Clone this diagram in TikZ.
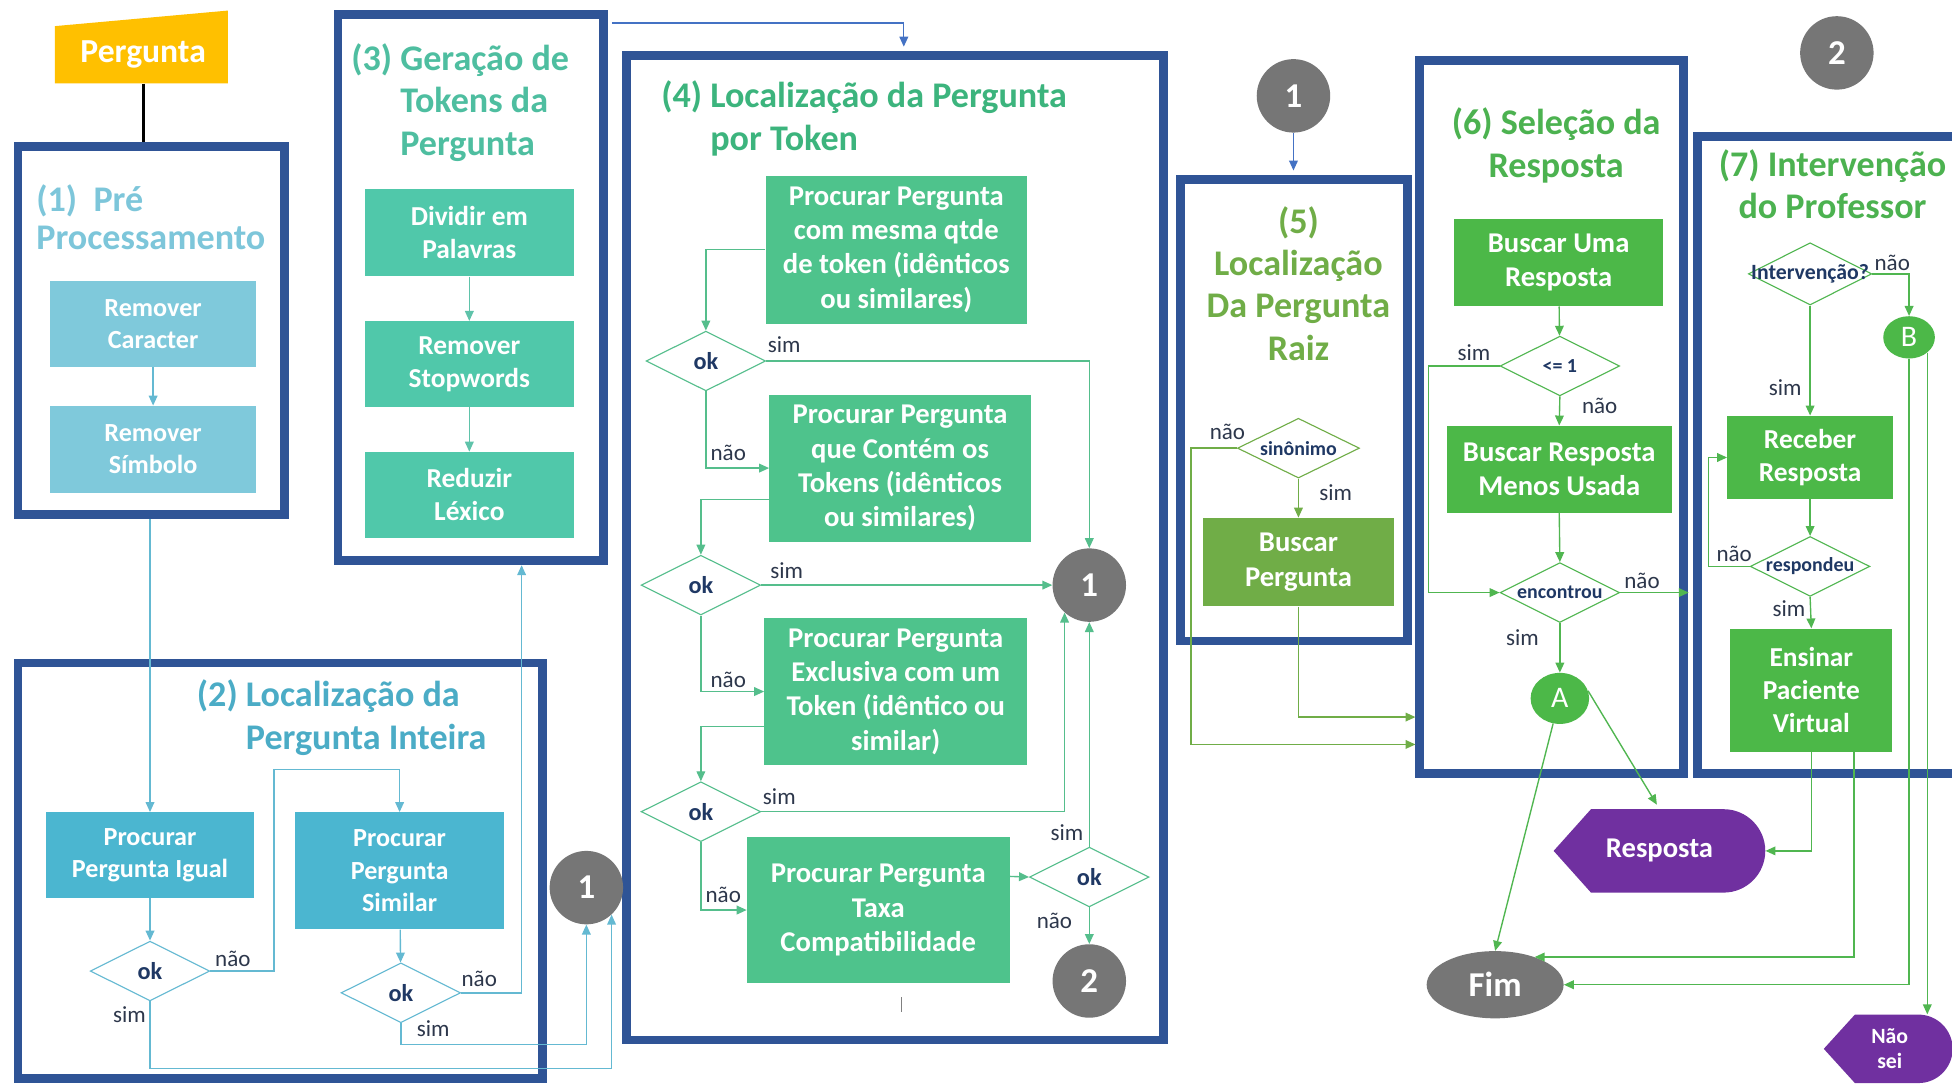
\documentclass[tikz,border=0pt]{standalone}
\usepackage{fontspec}
\setmainfont{Carlito}
\usetikzlibrary{arrows.meta,shapes.geometric,calc}

\definecolor{frameblue}{RGB}{47,84,150}
\definecolor{c1}{RGB}{127,201,219}
\definecolor{c1t}{RGB}{125,198,218}
\definecolor{c2}{RGB}{75,182,208}
\definecolor{c2t}{RGB}{75,172,198}
\definecolor{c3}{RGB}{80,200,170}
\definecolor{c3t}{RGB}{78,190,160}
\definecolor{c4}{RGB}{78,195,140}
\definecolor{c4t}{RGB}{60,180,125}
\definecolor{c5}{RGB}{112,173,71}
\definecolor{c67}{RGB}{76,184,72}
\definecolor{c67t}{RGB}{76,178,80}
\definecolor{ln12}{RGB}{100,185,210}
\definecolor{ln3}{RGB}{95,195,170}
\definecolor{ln4}{RGB}{85,190,140}
\definecolor{ln5}{RGB}{112,173,71}
\definecolor{ln67}{RGB}{80,182,80}
\definecolor{lnk}{RGB}{68,114,196}
\definecolor{gcol}{RGB}{118,118,118}
\definecolor{purp}{RGB}{112,48,160}
\definecolor{yel}{RGB}{255,192,0}
\definecolor{navy}{RGB}{31,56,100}
\definecolor{lblcol}{RGB}{45,55,75}

\begin{document}
\begin{tikzpicture}[x=1pt,y=-1pt,
  frame/.style={draw=frameblue, line width=7pt, inner sep=0pt},
  ttl/.style={text=#1, font=\fontsize{29}{34}\selectfont\bfseries, inner sep=0pt},
  pbox/.style={fill=#1, text=white, align=center, inner sep=0pt, font=\fontsize{22}{26.5}\selectfont\bfseries},
  bigtxt/.style={font=\fontsize{23}{27.5}\selectfont\bfseries},
  smalltxt/.style={font=\fontsize{21}{26}\selectfont\bfseries},
  dia/.style={diamond, aspect=2, draw=#1, fill=white, line width=0.9pt, minimum width=96pt, minimum height=48pt, inner sep=0pt},
  dtxt/.style={text=navy, inner sep=0pt, font=\fontsize{19.5}{22}\selectfont\bfseries},
  stxt/.style={text=navy, inner sep=0pt, font=\fontsize{16}{18}\selectfont\bfseries},
  lbl/.style={text=lblcol, inner sep=0pt, font=\fontsize{18.5}{20}\selectfont},
  gnum/.style={circle, fill=gcol, minimum size=59pt, inner sep=0pt, text=white, font=\fontsize{28}{30}\selectfont\bfseries},
  gell/.style={ellipse, fill=c67, inner sep=0pt, text=white, font=\fontsize{24}{26}\selectfont},
  conn/.style={draw=#1, line width=1.1pt, -{Triangle[length=8pt,width=7pt]}},
]
\useasboundingbox (0,0) rectangle (1568,872);
\clip (0,0) rectangle (1568,872);
\fill[white] (0,0) rectangle (1568,872);

% ---------- stage frames ----------
\node[frame, minimum width=214pt, minimum height=296pt] (f1) at (121.5,265.4) {};
\node[frame, minimum width=421pt, minimum height=334pt] (f2) at (225,699.5) {};
\node[frame, minimum width=213pt, minimum height=439pt] (f3) at (378,231) {};
\node[frame, minimum width=431pt, minimum height=791pt] (f4) at (719,440) {};
\node[frame, minimum width=182pt, minimum height=371pt] (f5) at (1039.5,329.5) {};
\node[frame, minimum width=212pt, minimum height=573pt] (f6) at (1246.5,335) {};
\node[frame, minimum width=253pt, minimum height=512pt] (f7) at (1490,365.4) {};

% ---------- input ----------
\fill[yel] (44,21) -- (183,8.5) -- (183,67) -- (44,67) -- cycle;
\node[inner sep=0pt, minimum width=139pt, minimum height=46pt, text=white,
      font=\fontsize{27}{30}\selectfont\bfseries] (perg) at (115,44) {Pergunta};
\draw[black, line width=2.6pt] (perg.south) -- (perg.south |- f1.north);

% ---------- titles ----------
\node[ttl=c1t, anchor=north west, align=left, font=\fontsize{29}{31}\selectfont\bfseries] (t1) at (29,148) {(1)\ \ Pré\\Processamento};
\node[ttl=c2t, anchor=north west, align=left] (t2) at (158,546) {(2) Localização da\\\phantom{(2) }Pergunta Inteira};
\node[ttl=c3t, anchor=north west, align=left] (t3) at (282,35) {(3) Geração de\\\phantom{(3) }Tokens da\\\phantom{(3) }Pergunta};
\node[ttl=c4t, anchor=north west, align=left] (t4) at (531,65) {(4) Localização da Pergunta\\\phantom{(4) }por Token};
\node[ttl=c5, anchor=north, align=center] (t5) at (1043,165.5) {(5)\\Localização\\Da Pergunta\\Raiz};
\node[ttl=c67t, anchor=north, align=center] (t6) at (1250,86.5) {(6) Seleção da\\Resposta};
\node[ttl=c67t, anchor=north, align=center] (t7) at (1472,120) {(7) Intervenção\\do Professor};

% ---------- process boxes ----------
\node[pbox=c1, smalltxt, minimum width=166pt, minimum height=69pt] (b1a) at (123,260.5) {Remover\\Caracter};
\node[pbox=c1, smalltxt, minimum width=166pt, minimum height=70pt] (b1b) at (123,361) {Remover\\Símbolo};

\node[pbox=c2, smalltxt, minimum width=167pt, minimum height=69pt] (b2a) at (120.5,687) {Procurar\\Pergunta Igual};
\node[pbox=c2, smalltxt, minimum width=168pt, minimum height=94pt] (b2b) at (321,699.5) {Procurar\\Pergunta\\Similar};

\node[pbox=c3, minimum width=168pt, minimum height=70pt] (b3a) at (377,187) {Dividir em\\Palavras};
\node[pbox=c3, minimum width=168pt, minimum height=69pt] (b3b) at (377,292.5) {Remover\\Stopwords};
\node[pbox=c3, minimum width=168pt, minimum height=69pt] (b3c) at (377,397.5) {Reduzir\\Léxico};

\node[pbox=c4, bigtxt, minimum width=210pt, minimum height=119pt] (b4a) at (720,200.5) {Procurar Pergunta\\com mesma qtde\\de token (idênticos\\ou similares)};
\node[pbox=c4, bigtxt, minimum width=210pt, minimum height=118pt] (b4b) at (723,376) {Procurar Pergunta\\que Contém os\\Tokens (idênticos\\ou similares)};
\node[pbox=c4, bigtxt, minimum width=211pt, minimum height=118pt] (b4c) at (719.5,555.5) {Procurar Pergunta\\Exclusiva com um\\Token (idêntico ou\\similar)};
\node[pbox=c4, bigtxt, minimum width=211pt, minimum height=118pt] (b4d) at (705.5,731) {Procurar Pergunta\\Taxa\\Compatibilidade};

\node[pbox=c5, bigtxt, minimum width=154pt, minimum height=71pt] (b5) at (1043,451.5) {Buscar\\Pergunta};

\node[pbox=c67, bigtxt, minimum width=168pt, minimum height=70pt] (b6a) at (1252,211) {Buscar Uma\\Resposta};
\node[pbox=c67, bigtxt, minimum width=181pt, minimum height=70pt] (b6b) at (1252.5,377) {Buscar Resposta\\Menos Usada};

\node[pbox=c67, minimum width=133pt, minimum height=67pt] (b7a) at (1454,367.5) {Receber\\Resposta};
\node[pbox=c67, minimum width=130pt, minimum height=99pt] (b7b) at (1455,554.5) {Ensinar\\Paciente\\Virtual};

% ---------- decisions ----------
\node[dia=ln12] (d2a) at (120.5,780) {};
\node[dtxt] (d2at) at (d2a) {ok};
\node[dia=ln12] (d2b) at (322,797.5) {};
\node[dtxt] (d2bt) at (d2b) {ok};
\node[dia=ln4] (d4a) at (567,290) {};
\node[dtxt] (d4at) at (d4a) {ok};
\node[dia=ln4] (d4b) at (563,470) {};
\node[dtxt] (d4bt) at (d4b) {ok};
\node[dia=ln4] (d4c) at (563,652) {};
\node[dtxt] (d4ct) at (d4c) {ok};
\node[dia=ln4] (d4e) at (875,704.5) {};
\node[dtxt] (d4et) at (d4e) {ok};
\node[dia=ln5, minimum width=98pt] (d5) at (1043,360) {};
\node[stxt] (d5t) at (d5) {sinônimo};
\node[dia=ln67] (d6a) at (1253,294) {};
\node[stxt] (d6at) at (d6a) {<= 1};
\node[dia=ln67] (d6b) at (1253,476) {};
\node[stxt] (d6bt) at (d6b) {encontrou};
\node[dia=ln67, minimum width=99pt, minimum height=50pt] (d7a) at (1454,220) {};
\node[stxt, font=\fontsize{17.5}{19}\selectfont\bfseries] (d7at) at (d7a) {Intervenção?};
\node[dia=ln67] (d7b) at (1454,455) {};
\node[stxt] (d7bt) at (d7b) {respondeu};

% ---------- connectors (off-page references) ----------
\node[gnum] (c1L) at (471,713) {1};
\node[gnum] (c1M) at (875,470) {1};
\node[gnum] (c2M) at (875,788) {2};
\node[gnum] (c1R) at (1039,77) {1};
\node[gnum] (c2R) at (1475.5,42.5) {2};
\node[gell, minimum width=47pt, minimum height=41pt] (acirc) at (1253,561) {A};
\node[gell, minimum width=41.5pt, minimum height=34pt] (bcirc) at (1533.5,271) {B};

% ---------- terminals ----------
\node[ellipse, fill=gcol, inner sep=0pt, minimum width=110pt, minimum height=54pt, text=white,
      font=\fontsize{28}{30}\selectfont\bfseries] (fim) at (1201,791) {Fim};
\fill[purp] (1248,683.5) -- (1278,650) -- (1384.5,650) arc[start angle=90, end angle=-90, radius=33.5pt] -- (1278,717) -- cycle;
\node[inner sep=0pt, minimum width=170pt, minimum height=67pt, text=white,
      font=\fontsize{23}{26}\selectfont\bfseries] (resp) at (1333,683.5) {Resposta};
\fill[purp] (1465,842.5) -- (1490,815) -- (1541,815) arc[start angle=90, end angle=-90, radius=27.5pt] -- (1490,870) -- cycle;
\node[inner sep=0pt, minimum width=106pt, minimum height=55pt, align=center, text=white,
      font=\fontsize{17.5}{20}\selectfont\bfseries] (naosei) at (1518,842.5) {Não\\sei};

\draw[gray, line width=0.8pt] (724,801) -- (724,813);

\coordinate (f3in) at (419,454);
\coordinate (f6a) at (1137,576);
\coordinate (f6b) at (1137,598);

% ---------- flow: stages 1 and 2 ----------
\draw[conn=ln12] (b1a) -- (b1b);
\draw[conn=ln12] (b2a.north |- f1.south) -- (b2a.north);
\draw[conn=ln12] (b2a) -- (d2a);
\draw[conn=ln12] (d2a.east) -- ++(51,0) |- ($(b2b.north)+(0,-34)$) -- (b2b.north);
\draw[conn=ln12] (d2a.south) -- ++(0,54) -| (c1L.-47);
\draw[conn=ln12] (b2b) -- (d2b);
\draw[conn=ln12] (d2b.east) -| (f3in);
\draw[conn=ln12] (d2b.south) -- ++(0,17) -| (c1L.south);

% ---------- flow: stage 3 ----------
\draw[conn=ln3] (b3a) -- (b3b);
\draw[conn=ln3] (b3b) -- (b3c);
\draw[conn=lnk, shorten >=3.5pt] ($(f3.north east)+(3.5,10.5)$) -| ($(f4.north)+(7,0)$);

% ---------- flow: stage 4 ----------
\draw[conn=ln4] (b4a.west) -| (d4a.north);
\draw[conn=ln4] (d4a.east) -| (c1M.north);
\draw[conn=ln4] (d4a.south) |- (b4b.west);
\draw[conn=ln4] ($(b4b.west)+(0,25)$) -| (d4b.north);
\draw[conn=ln4] (d4b.east) -- (c1M.west);
\draw[conn=ln4] (d4b.south) |- (b4c.west);
\draw[conn=ln4] ($(b4c.west)+(0,28)$) -| (d4c.north);
\draw[conn=ln4] (d4c.east) -| (c1M.228);
\draw[conn=ln4] (d4c.south) |- (b4d.west);
\draw[conn=ln4] ($(b4d.east)+(0,-27)$) -- (d4e.west);
\draw[conn=ln4] (d4e.north) -- (c1M.south);
\draw[conn=ln4] (d4e.south) -- (c2M.north);

% ---------- flow: stage 5 ----------
\draw[conn=lnk, shorten >=3.5pt] (c1R.south) -- (c1R.south |- f5.north);
\draw[conn=ln5] (d5.south) -- (b5.north);
\draw[conn=ln5] (d5.west) -- ++(-37,0) |- (f6b);
\draw[conn=ln5] (b5.south) |- (f6a);

% ---------- flow: stage 6 ----------
\draw[conn=ln67] (b6a) -- (d6a);
\draw[conn=ln67] (d6a.west) -- ++(-57,0) |- (d6b.west);
\draw[conn=ln67] (d6a.south) -- (b6b.north);
\draw[conn=ln67] (b6b.south) -- (d6b.north);
\draw[conn=ln67] (d6b.south) -- (acirc.north);
\draw[conn=ln67, shorten >=3.5pt] (d6b.east) -- (d6b.east -| f7.west);
\draw[conn=ln67] (acirc.-105) -- (fim.north);
\draw[conn=ln67, shorten >=4pt] (acirc.15) -- (resp.north);

% ---------- flow: stage 7 ----------
\draw[conn=ln67] (d7a.east) -| (bcirc.north);
\draw[conn=ln67] (d7a.south) -- (b7a.north);
\draw[conn=ln67] (b7a.south) -- (d7b.north);
\draw[conn=ln67] (d7b.west) -- ++(-33,0) |- (b7a.west);
\draw[conn=ln67] (d7b.south) -- (b7b.north);
\draw[conn=ln67] (b7b.south) |- (resp.east);
\draw[conn=ln67] ($(b7b.south east)+(-31,0)$) |- (fim.35);
\draw[conn=ln67] (bcirc.south) |- (fim.east);
\draw[conn=ln67] (bcirc.-40) -- (bcirc.-40 |- naosei.north);

% ---------- branch labels ----------
\node[lbl] (l1) at (187,770) {não};
\node[lbl] (l2) at (104,815) {sim};
\node[lbl] (l3) at (385,786) {não};
\node[lbl] (l4) at (348,826) {sim};
\node[lbl] (l5) at (630,277) {sim};
\node[lbl] (l6) at (585,364) {não};
\node[lbl] (l7) at (632,458) {sim};
\node[lbl] (l8) at (585,546) {não};
\node[lbl] (l9) at (626,640) {sim};
\node[lbl] (l10) at (581,719) {não};
\node[lbl] (l11) at (857,669) {sim};
\node[lbl] (l12) at (847,740) {não};
\node[lbl] (l13) at (986,347) {não};
\node[lbl] (l14) at (1073,396) {sim};
\node[lbl] (l15) at (1184,283) {sim};
\node[lbl] (l16) at (1285,326) {não};
\node[lbl] (l17) at (1319,467) {não};
\node[lbl] (l18) at (1223,512) {sim};
\node[lbl] (l19) at (1520,211) {não};
\node[lbl] (l20) at (1434,311) {sim};
\node[lbl] (l21) at (1393,445) {não};
\node[lbl] (l22) at (1437,489) {sim};
\end{tikzpicture}
\end{document}
